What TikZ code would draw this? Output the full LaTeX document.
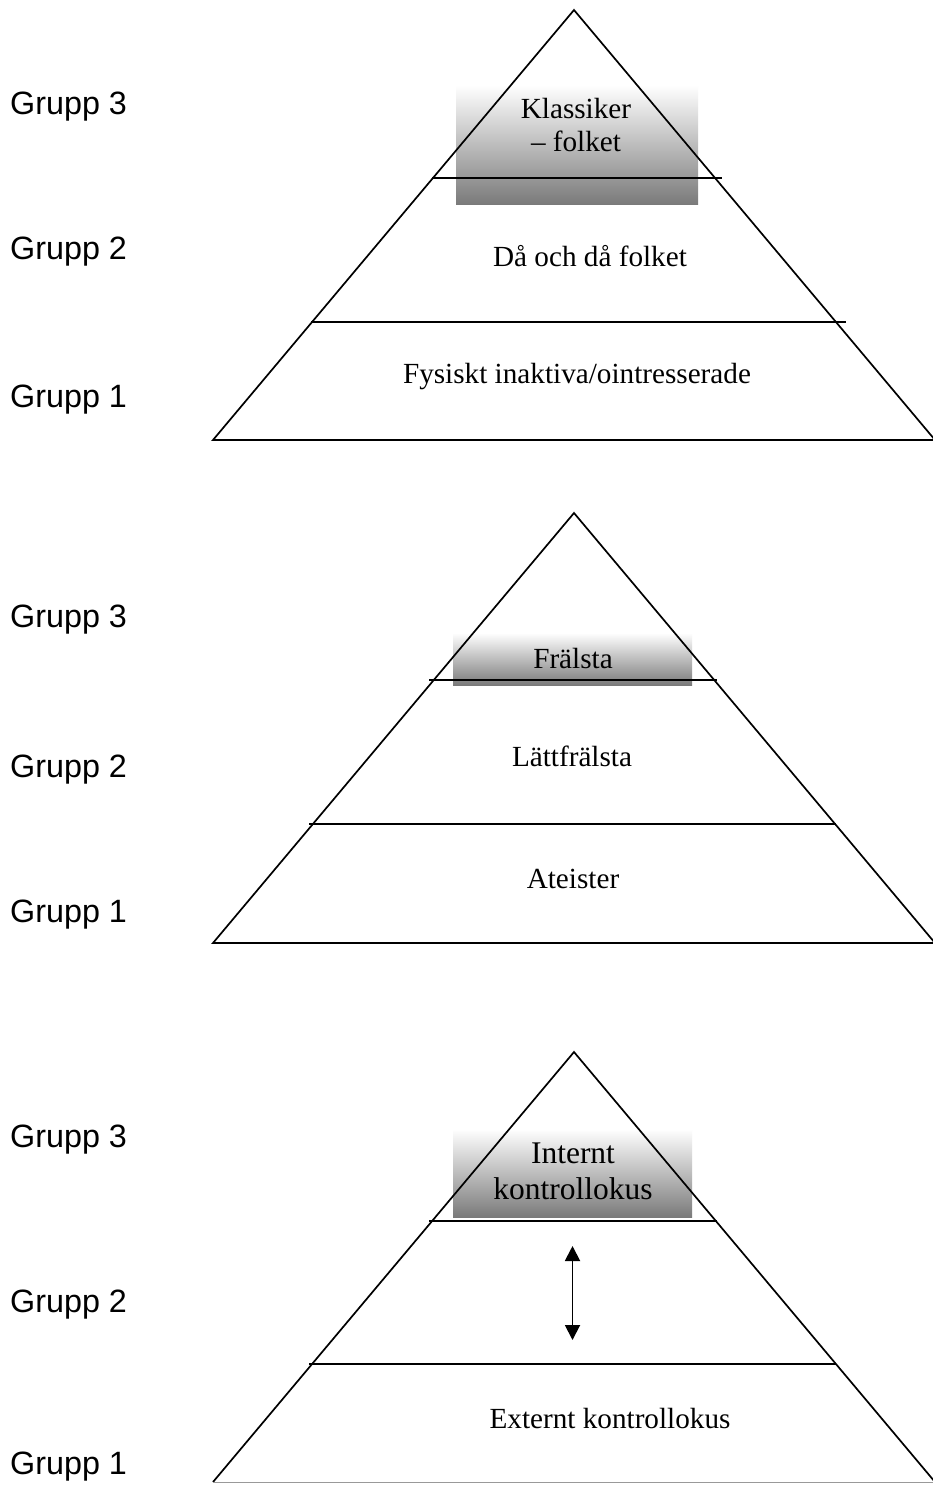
\documentclass[tikz,border=0pt]{standalone}
\usepackage{fontspec}
\setmainfont{Liberation Serif}
\newfontfamily\grpfont{Liberation Sans}
\usetikzlibrary{arrows.meta}
\tikzset{
  edge/.style={line width=1.7pt, line join=miter},
  grp/.style={font=\grpfont\fontsize{32.3}{36}\selectfont, anchor=west, inner sep=0pt},
  lbl/.style={font=\fontsize{29.2}{33.5}\selectfont, inner sep=0pt, align=center},
  biglbl/.style={font=\fontsize{31.5}{36}\selectfont, inner sep=0pt, align=center},
  shadebox/.style={top color=white, bottom color=black!52, draw=none},
}
\begin{document}
\begin{tikzpicture}[x=1pt,y=-1pt]
\useasboundingbox[fill=white] (0,0) rectangle (933,1485);

% ---------- Pyramid 1 ----------
\shade[shadebox] (456,85) rectangle (698,204);
\coordinate (a1) at (574,10);
\coordinate (l1) at (213,440);
\coordinate (r1) at (935,440);
\draw[edge] (l1) -- (a1) -- (r1) -- cycle;
\coordinate (h1a) at (432,178); \coordinate (h1b) at (722,178);
\coordinate (h1c) at (311,322); \coordinate (h1d) at (846,322);
\draw[edge] (h1a) -- (h1b);
\draw[edge] (h1c) -- (h1d);
\node[lbl] (t1a) at (576,125) {Klassiker\\– folket};
\node[lbl] (t1b) at (590,256) {Då och då folket};
\node[lbl] (t1c) at (577,377) {Fysiskt inaktiva/ointresserade};
\node[grp] (g13) at (10,107) {Grupp 3};
\node[grp] (g12) at (10,252) {Grupp 2};
\node[grp] (g11) at (10,400) {Grupp 1};

% ---------- Pyramid 2 ----------
\shade[shadebox] (453,633) rectangle (692,685);
\coordinate (a2) at (574,513);
\coordinate (l2) at (213,943);
\coordinate (r2) at (935,943);
\draw[edge] (l2) -- (a2) -- (r2) -- cycle;
\coordinate (h2a) at (429,680); \coordinate (h2b) at (717,680);
\coordinate (h2c) at (309,824); \coordinate (h2d) at (836,824);
\draw[edge] (h2a) -- (h2b);
\draw[edge] (h2c) -- (h2d);
\node[lbl] (t2a) at (573,659) {Frälsta};
\node[lbl] (t2b) at (572,756) {Lättfrälsta};
\node[lbl] (t2c) at (573,879) {Ateister};
\node[grp] (g23) at (10,620) {Grupp 3};
\node[grp] (g22) at (10,770) {Grupp 2};
\node[grp] (g21) at (10,915) {Grupp 1};

% ---------- Pyramid 3 ----------
\shade[shadebox] (453,1129) rectangle (692,1217);
\coordinate (a3) at (574,1052);
\coordinate (l3) at (213,1482);
\coordinate (r3) at (935,1482);
\draw[edge] (l3) -- (a3) -- (r3);
\draw[line width=1pt, black!40] (l3) -- (r3);
\coordinate (h3a) at (429,1221); \coordinate (h3b) at (717,1221);
\coordinate (h3c) at (309,1364); \coordinate (h3d) at (836,1364);
\draw[edge] (h3a) -- (h3b);
\draw[edge] (h3c) -- (h3d);
\node[biglbl] (t3a) at (573,1171) {Internt\\kontrollokus};
\node[lbl] (t3c) at (610,1418) {Externt kontrollokus};
\coordinate (ar1) at (572.5,1246);
\coordinate (ar2) at (572.5,1340);
\draw[line width=1.9pt, {Triangle[width=15pt,length=15pt]}-{Triangle[width=15pt,length=15pt]}] (ar1) -- (ar2);
\node[grp] (g33) at (10,1140) {Grupp 3};
\node[grp] (g32) at (10,1305) {Grupp 2};
\node[grp] (g31) at (10,1467) {Grupp 1};
\end{tikzpicture}
\end{document}
